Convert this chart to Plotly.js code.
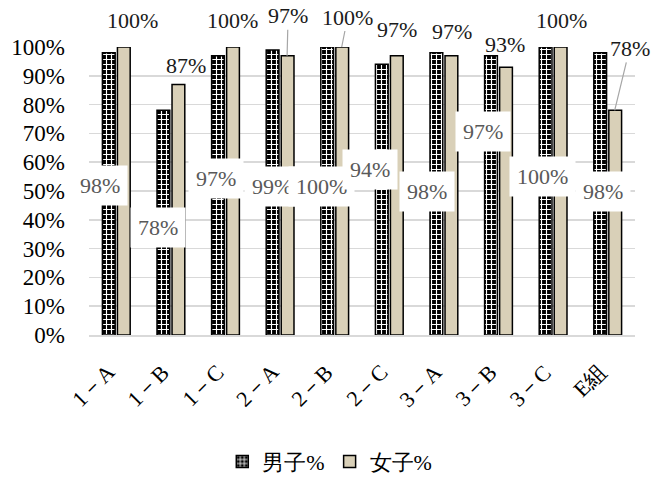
<!DOCTYPE html>
<html><head><meta charset="utf-8">
<script src="https://cdn.plot.ly/plotly-3.0.1.min.js"></script>
<style>html,body{margin:0;padding:0;background:#fff}#chart{width:655px;height:477px}</style>
</head><body><div id="chart"></div>
<script>
var categories = ["1－A","1－B","1－C","2－A","2－B","2－C","3－A","3－B","3－C","E組"];
var maleValues = [98, 78, 97, 99, 100, 94, 98, 97, 100, 98];
var femaleValues = [100, 87, 100, 97, 100, 97, 97, 93, 100, 78];
var maleName = "男子%";
var femaleName = "女子%";

var maleLabelPos = [[-16,52],[-13,37.5],[-10,54.5],[-8,51.7],[-13,51.7],[-19,57.3],[-17,50],[-16,70.8],[-11,55.2],[-5,50]];
var femaleLabelPos = [[16,-27,0],[15,-19,0],[7,-27,0],[4,-40,1],[9,-30,1],[8,-26,0],[8,-24,0],[6,-23,0],[8,-27,0],[18,-62,1]];

var FONT = "Liberation Serif";
var FS = 22;

var traces = [
  {type:"bar", name:maleName, x:categories, y:maleValues,
   marker:{color:"#000", line:{color:"#000", width:1.5},
     pattern:{shape:"+", bgcolor:"#000", fgcolor:"#fff", size:5, solidity:0.4}},
   hoverinfo:"none"},
  {type:"bar", name:femaleName, x:categories, y:femaleValues,
   marker:{color:"#d9d0b8", line:{color:"#000", width:1.5}}, hoverinfo:"none"}
];

var annotations = [];
femaleValues.forEach(function(v,i){
  var p = femaleLabelPos[i];
  var a = {x:categories[i], y:v, xref:"x", yref:"y", text:v+"%",
    font:{family:FONT, size:FS, color:"#1a1a1a"}};
  if (p[2]) {
    a.showarrow = true; a.arrowhead = 0; a.arrowcolor = "#a6a6a6"; a.arrowwidth = 1.2;
    a.ax = p[0]-3; a.ay = p[1]; a.standoff = 0; a.xshift = 7;
  } else {
    a.showarrow = false; a.xshift = p[0]; a.yshift = -p[1];
  }
  annotations.push(a);
});
maleValues.forEach(function(v,i){
  var p = maleLabelPos[i];
  annotations.push({x:categories[i], y:p[1], xref:"x", yref:"y", text:v+"%", showarrow:false,
    xshift:p[0], bgcolor:"#fff", borderpad:7,
    font:{family:FONT, size:FS, color:"#595959"}});
});
categories.forEach(function(c){
  annotations.push({x:c, y:-0.075, xref:"x", yref:"paper", text:c, showarrow:false,
    textangle:-45, xanchor:"right", yanchor:"top", xshift:6,
    font:{family:FONT, size:FS, color:"#000"}});
});

var layout = {
  width:655, height:477,
  margin:{l:89, r:20, t:47, b:142, autoexpand:false},
  paper_bgcolor:"#fff", plot_bgcolor:"#fff",
  barmode:"group", bargap:0.45, bargroupgap:0.15,
  font:{family:FONT, size:FS, color:"#000"},
  showlegend:true,
  legend:{orientation:"h", x:0.441, xanchor:"center", y:-0.44, yanchor:"middle",
    font:{family:FONT, size:FS, color:"#000"}, itemwidth:30, tracegroupgap:0},
  xaxis:{type:"category", range:[-0.5, 9.5], showticklabels:false, showgrid:false, showline:true, linecolor:"#d9d9d9", linewidth:1.5,
    ticks:"", automargin:false, fixedrange:true},
  yaxis:{range:[0,100], dtick:10, ticksuffix:"%", showgrid:true, gridcolor:"#d9d9d9", gridwidth:1.5,
    zeroline:false, showline:false, ticks:"", ticklabelstandoff:23, automargin:false,
    tickfont:{family:FONT, size:23, color:"#000"}, fixedrange:true},
  annotations:annotations
};
Plotly.newPlot("chart", traces, layout, {displayModeBar:false, staticPlot:true});
</script></body></html>
